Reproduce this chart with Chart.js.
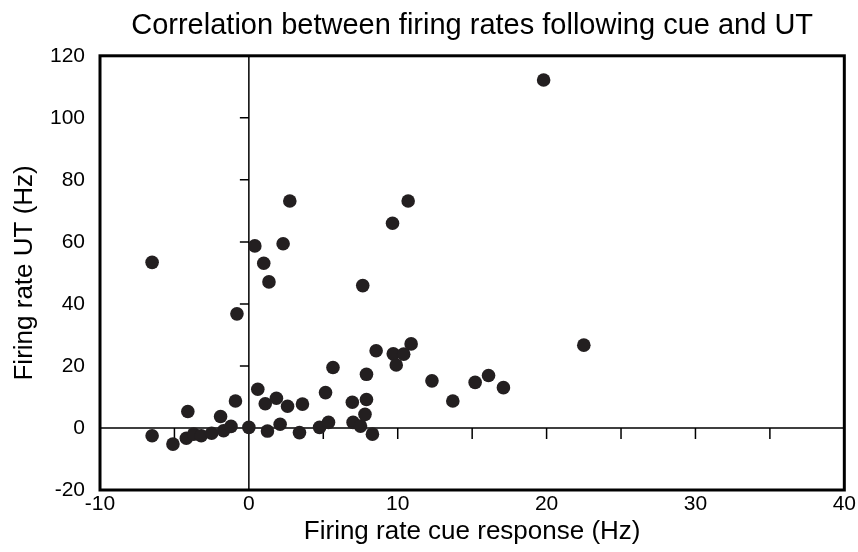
<!DOCTYPE html>
<html>
<head>
<meta charset="utf-8">
<script src="https://cdn.jsdelivr.net/npm/chart.js@4.4.1/dist/chart.umd.min.js"></script>
<style>
  body { margin: 0; background: #ffffff; }
  canvas { display: block; }
</style>
</head>
<body>
<canvas id="chart" width="858" height="552"></canvas>
<script>
// cue response (Hz) and UT response (Hz), one entry per neuron
const cueRate = [
  -6.5, -6.5, -5.1, -4.2, -4.1, -3.7, -3.2, -2.5, -1.9, -1.7,
  -1.2, -0.9, -0.8, 0.0, 0.4, 0.6, 1.0, 1.1, 1.25, 1.35,
  1.85, 2.1, 2.3, 2.6, 2.75, 3.4, 3.6, 4.75, 5.15, 5.35,
  5.65, 6.95, 7.0, 7.5, 7.65, 7.8, 7.9, 7.9, 8.3, 8.55,
  9.65, 9.7, 9.9, 10.4, 10.7, 10.9, 12.3, 13.7, 15.2, 16.1,
  17.1, 19.8, 22.5
]
const utRate = [
  53.4, -2.5, -5.2, -3.3, 5.3, -2.0, -2.5, -1.7, 3.7, -0.9,
  0.5, 8.7, 36.8, 0.2, 58.7, 12.5, 53.1, 7.8, -1.0, 47.1,
  9.6, 1.2, 59.4, 7.0, 73.2, -1.5, 7.7, 0.2, 11.4, 1.8,
  19.5, 8.3, 1.8, 0.6, 45.9, 4.4, 9.2, 17.3, -2.0, 24.9,
  66.0, 23.9, 20.3, 23.8, 73.2, 27.1, 15.2, 8.7, 14.7, 16.9,
  13.0, 112.2, 26.7
]
const xTicksOnZero = [-5, 5, 10, 15, 20, 25, 30, 35]
const yTicksOnZero = [20, 40, 60, 80, 100]

const points = cueRate.map((v, i) => ({ x: v, y: utRate[i] }))
const fontFamily = '"Liberation Sans", Arial, Helvetica, sans-serif'

// box round the plot, zero lines with their little ticks
const framePlugin = {
  id: 'frame',
  beforeDatasetsDraw(chart) {
    const { ctx, chartArea: a, scales: { x, y } } = chart
    const x0 = x.getPixelForValue(0)
    const y0 = y.getPixelForValue(0)
    ctx.save()
    ctx.strokeStyle = '#000000'
    ctx.lineWidth = 1.5
    ctx.beginPath()
    ctx.moveTo(a.left, y0)
    ctx.lineTo(a.right, y0)
    ctx.moveTo(x0, a.top)
    ctx.lineTo(x0, a.bottom)
    xTicksOnZero.forEach(v => {
      const px = x.getPixelForValue(v)
      ctx.moveTo(px, y0)
      ctx.lineTo(px, y0 + 11)
    })
    yTicksOnZero.forEach(v => {
      const py = y.getPixelForValue(v)
      ctx.moveTo(x0, py)
      ctx.lineTo(x0 - 9, py)
    })
    ctx.stroke()
    ctx.restore()
  },
  afterDraw(chart) {
    const { ctx, chartArea: a } = chart
    ctx.save()
    ctx.strokeStyle = '#000000'
    ctx.lineWidth = 3
    ctx.strokeRect(a.left, a.top, a.right - a.left, a.bottom - a.top)
    ctx.restore()
  }
}

new Chart(document.getElementById('chart'), {
  type: 'scatter',
  data: {
    datasets: [{
      data: points,
      pointRadius: 6.8,
      pointHoverRadius: 6.8,
      pointBackgroundColor: '#231f20',
      pointBorderColor: '#231f20',
      pointBorderWidth: 0
    }]
  },
  options: {
    responsive: false,
    animation: false,
    layout: { padding: { left: 0, right: 11, top: 0, bottom: 0 } },
    plugins: {
      legend: { display: false },
      tooltip: { enabled: false },
      title: {
        display: true,
        fullSize: false,
        text: 'Correlation between firing rates following cue and UT',
        color: '#000000',
        font: { family: fontFamily, size: 29, weight: 'normal' },
        padding: { top: 9, bottom: 12 }
      }
    },
    scales: {
      x: {
        type: 'linear',
        min: -10,
        max: 40,
        ticks: {
          stepSize: 10,
          color: '#000000',
          padding: 2,
          maxRotation: 0,
          font: { family: fontFamily, size: 21 }
        },
        grid: { display: false, drawTicks: false },
        border: { display: false },
        title: {
          display: true,
          text: 'Firing rate cue response (Hz)',
          color: '#000000',
          font: { family: fontFamily, size: 26 },
          padding: { top: 0, bottom: 5 }
        },
        afterFit(scale) { scale.height = 62 }
      },
      y: {
        type: 'linear',
        min: -20,
        max: 120,
        ticks: {
          stepSize: 20,
          color: '#000000',
          padding: 15,
          font: { family: fontFamily, size: 21 }
        },
        grid: { display: false, drawTicks: false },
        border: { display: false },
        title: {
          display: true,
          text: 'Firing rate UT (Hz)',
          color: '#000000',
          font: { family: fontFamily, size: 26 },
          padding: { top: 9, bottom: 0 }
        },
        afterFit(scale) { scale.width = 100 }
      }
    }
  },
  plugins: [framePlugin]
})
</script>
</body>
</html>
